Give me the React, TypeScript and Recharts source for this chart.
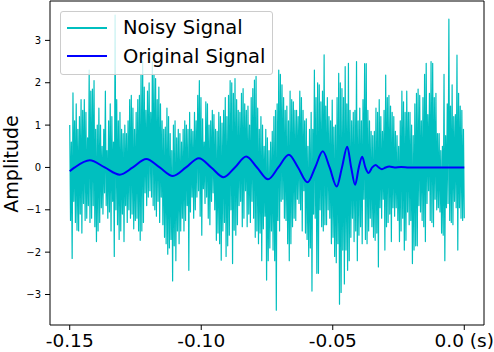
import React from 'react';
import { LineChart, Line, XAxis, YAxis, ReferenceArea, Label } from 'recharts';

// noisy samples, read segment by segment from left to right
const noiseSeg1 = [
  1.0, -1.25, 0.6, -2.15, 1.76, -0.8, 1.1, -1.3, 1.5, -1.48,
  0.9, -1.5, 1.2, -1.1, 1.6, -1.55, 1.35, -0.85, 1.6, -1.25,
  1.3, -1.2, 0.7, -0.9, 2.3, -1.3, 1.8, -1.2, 1.85, -0.9,
  2.05, -1.4, 0.9, -1.75, 1.0, -1.5, 1.4, -1.3, 1.0, -0.95,
  0.5, -1.1, 0.9, -0.6, 1.8, -0.9, 0.4, -1.2, 1.1, -1.05,
  1.5, -1.5, 1.2, -0.8, 0.6, -2.1, 3.6, -1.0, 1.6, -1.35,
  1.1, -1.7, 1.3, -1.5, 0.9, -1.1, 0.8, -1.75,
];
const noiseSeg2 = [
  1.0, -0.9, 0.8, -1.3, 1.1, -1.0, 1.6, -1.2, 1.7, -1.1,
  1.4, -1.45, 0.9, -1.25, 1.3, -1.2, 1.6, -1.5, 1.7, -1.72,
  2.2, -1.5, 2.5, -1.3, 1.9, -0.6, 1.35, -0.9, 1.8, -0.7,
  2.0, -0.55, 1.3, -0.7, 2.5, -0.9, 2.2, -1.0, 2.1, -1.15,
  1.6, -0.8, 1.9, -1.3, 1.5, -0.7, 1.1, -1.35, 0.9, -1.65,
  0.95, -1.8, 1.4, -2.05, 1.2, -1.9, 0.8, -1.7, 0.4, -2.68,
  1.0, -1.85, 1.1, -2.2, 0.7, -1.5, 0.9, -1.8, 0.8, -1.5,
  0.6, -1.2,
];
const noiseSeg3 = [
  0.9, -1.5, 1.1, -1.25, 1.0, -0.9, 0.9, -2.43, 1.3, -1.05,
  0.9, -0.7, 0.85, -1.2, 1.3, -1.0, 1.1, -0.7, 1.7, -0.55,
  2.05, -1.15, 1.65, -1.6, 1.15, -0.5, 0.6, -0.85, 1.55, -0.7,
  1.5, -1.2, 1.0, -1.35, 1.1, -0.8, 1.35, -0.6, 1.25, -1.0,
  0.9, -1.72, 0.85, -1.55, 1.3, -1.8, 1.2, -2.19, 1.05, -1.5,
  1.35, -1.3, 1.65, -2.1, 1.2, -1.85, 1.7, -1.6, 2.05, -1.0,
  2.0, -2.27, 1.75, -1.48, 2.1, -1.6, 1.6, -1.35, 1.35, -0.9,
];
const noiseSeg4 = [
  1.3, -0.8, 1.75, -1.4, 1.86, -1.2, 1.5, -0.55, 1.35, -1.4,
  1.45, -1.1, 1.0, -1.3, 1.65, -0.8, 1.86, -1.2, 2.06, -1.65,
  2.15, -1.5, 1.4, -1.8, 0.9, -1.55, 1.2, -2.2, 1.0, -1.45,
  0.5, -1.15, 0.9, -2.66, 0.7, -2.2, 0.4, -1.9, 0.6, -1.5,
  0.85, -1.95, 1.2, -2.2, 1.35, -3.37, 1.5, -1.25, 2.3, -1.5,
  2.2, -0.8, 1.95, -0.75, 1.65, -1.2, 1.35, -1.25, 1.45, -1.8,
  1.1, -2.2, 1.8, -1.8, 1.6, -1.4, 1.55, -1.2, 1.35, -1.25,
];
const noiseSeg5 = [
  1.35, -0.75, 1.2, -0.85, 1.8, -1.0, 1.65, -1.5, 1.35, -0.55,
  1.1, -1.55, 1.15, -1.7, 0.5, -2.1, 0.9, -1.9, 1.3, -2.92,
  0.9, -1.1, 2.3, -1.2, 1.65, -2.5, 2.0, -2.5, 1.95, -1.0,
  1.55, -1.4, 1.8, -1.5, 2.66, -1.35, 1.45, -1.35, 1.65, -1.0,
  1.2, -1.2, 1.1, -1.8, 1.59, -1.65, 0.95, -2.1, 1.0, -2.25,
  1.65, -1.8, 2.22, -3.23, 2.0, -2.95, 1.86, -1.95, 1.65, -2.75,
  2.38, -1.95, 1.5, -2.43, 2.46, -2.2, 1.35, -1.65, 1.1, -1.2,
];
const noiseSeg6 = [
  1.3, -1.75, 1.35, -1.5, 2.5, -2.2, 1.1, -1.6, 1.4, -1.4,
  1.1, -1.8, 1.6, -0.75, 2.45, -1.7, 2.45, -1.8, 1.35, -1.5,
  1.1, -1.2, 0.85, -1.4, 0.75, -1.65, 0.85, -1.72, 1.4, -1.55,
  1.3, -2.35, 1.6, -0.95, 1.2, -1.2, 0.85, -0.75, 1.35, -1.95,
  2.18, -1.4, 1.65, -1.3, 1.7, -1.1, 1.45, -1.75, 1.3, -0.95,
  1.2, -1.15, 0.85, -0.95, 0.75, -1.25, 0.5, -1.75, 1.1, -1.5,
  1.8, -1.2, 1.55, -1.95, 1.3, -1.72, 1.8, -1.05, 1.3, -1.35,
];
const noiseSeg7 = [
  1.3, -1.25, 1.0, -2.27, 0.75, -1.95, 1.5, -1.85, 1.75, -1.85,
  1.85, -0.9, 1.7, -1.05, 1.1, -1.25, 1.65, -1.4, 2.2, -1.75,
  2.46, -0.85, 1.25, -0.55, 1.75, -1.25, 2.5, -1.3, 2.46, -1.4,
  1.65, -0.75, 1.75, -1.0, 0.8, -0.95, 0.8, -1.05, 0.4, -1.55,
  0.5, -1.6, 2.2, -2.2, 0.75, -0.95, 1.5, -0.85, 3.5, -1.25,
  1.45, -1.3, 1.95, -1.35, 1.2, -0.8, 1.25, -0.95, 2.65, -1.95,
  1.75, -0.95, 1.45, -1.2, 1.35, -1.25, 0.9, -1.2,
];

// original signal: extrema and zero crossings
const origT = [
  -0.15, -0.1481, -0.1424, -0.1367, -0.131, -0.126, -0.1209, -0.1158, -0.1108,
  -0.1058, -0.1009, -0.0962, -0.0915, -0.0872, -0.0829, -0.0788, -0.0746,
  -0.0707, -0.0667, -0.0632, -0.0596, -0.0567, -0.0538, -0.0512, -0.0485,
  -0.0465, -0.0445, -0.043, -0.0415, -0.0401, -0.0388, -0.0376, -0.0364,
  -0.035, -0.0337, -0.0325, -0.0313, -0.0299, -0.0285, -0.0265, -0.024,
  -0.021, 0.0,
];
const origV = [
  -0.09, 0, 0.17, 0, -0.17, 0, 0.2, 0, -0.2,
  0, 0.22, 0, -0.23, 0, 0.26, 0, -0.28,
  0, 0.3, 0, -0.35, 0, 0.38, 0, -0.45,
  0, 0.49, 0, -0.41, 0, 0.25, 0, -0.13,
  0, 0.06, 0, -0.04, 0, 0.02, 0, 0.01,
  0, 0,
];

const xTicks = [-0.15, -0.1, -0.05, 0];
const xTickLabels = ['-0.15', '-0.10', '-0.05', '0.0 (s)'];
const yTicks = [-3, -2, -1, 0, 1, 2, 3];
const yTickLabels = ['\u22123', '\u22122', '\u22121', '0', '1', '2', '3'];

const T_START = -0.15;
const T_END = 0;
const X_DOMAIN: [number, number] = [-0.1575, 0.0075];
const Y_DOMAIN: [number, number] = [-3.72, 3.93];

const FONT = 'DejaVu Sans, sans-serif';

const noisyVals = [
  ...noiseSeg1, ...noiseSeg2, ...noiseSeg3, ...noiseSeg4,
  ...noiseSeg5, ...noiseSeg6, ...noiseSeg7,
];
const step = (T_END - T_START) / (noisyVals.length - 1);
const noisyData = noisyVals.map((v, i) => ({ t: T_START + i * step, v }));
const origData = origT.map((t, i) => ({ t, v: origV[i] }));

const AmplitudeLabel = () => (
  <text
    x={18}
    y={164}
    transform="rotate(-90 18 164)"
    textAnchor="middle"
    fontSize={19}
    fontFamily={FONT}
    fill="#000"
  >
    Amplitude
  </text>
);

const LegendBox = () => (
  <div
    style={{
      position: 'absolute',
      left: 60,
      top: 11,
      width: 211,
      height: 62,
      border: '1px solid #cccccc',
      borderRadius: 3,
      background: 'rgba(255,255,255,0.8)',
      fontFamily: FONT,
      fontSize: 19.5,
      lineHeight: 1,
      color: '#000',
    }}
  >
    <div style={{ position: 'absolute', left: 6, top: 14.5, width: 40, height: 2, background: '#00bfbf' }} />
    <div style={{ position: 'absolute', left: 62, top: 6, whiteSpace: 'nowrap' }}>Noisy Signal</div>
    <div style={{ position: 'absolute', left: 6, top: 43, width: 40, height: 1.5, background: '#0000ff' }} />
    <div style={{ position: 'absolute', left: 62, top: 34.5, whiteSpace: 'nowrap' }}>Original Signal</div>
  </div>
);

const App: React.FC = () => {
  return (
    <div style={{ position: 'absolute', left: 0, top: 0, width: 494, height: 352, background: '#fff' }}>
      <LineChart width={494} height={352} margin={{ top: 1, right: 10, bottom: 1, left: 0 }}>
        <XAxis
          type="number"
          dataKey="t"
          domain={X_DOMAIN}
          allowDataOverflow
          ticks={xTicks}
          tickFormatter={(v: number) => xTickLabels[xTicks.findIndex((x) => Math.abs(x - v) < 1e-9)] ?? ''}
          axisLine={false}
          tickLine={{ stroke: '#000' }}
          tickSize={5}
          tickMargin={4}
          height={26}
          interval={0}
          tick={{ fill: '#000', fontSize: 18.5, fontFamily: FONT }}
        />
        <YAxis
          type="number"
          domain={Y_DOMAIN}
          allowDataOverflow
          ticks={yTicks}
          tickFormatter={(v: number) => yTickLabels[yTicks.indexOf(v)] ?? ''}
          axisLine={false}
          tickLine={{ stroke: '#000' }}
          tickSize={5}
          tickMargin={4}
          width={50}
          interval={0}
          tick={{ fill: '#000', fontSize: 10, fontFamily: FONT }}
        >
          <Label content={AmplitudeLabel} />
        </YAxis>
        <ReferenceArea
          x1={X_DOMAIN[0]}
          x2={X_DOMAIN[1]}
          y1={Y_DOMAIN[0]}
          y2={Y_DOMAIN[1]}
          fill="none"
          stroke="#000"
          strokeWidth={1}
          ifOverflow="visible"
        />
        <Line
          data={noisyData}
          dataKey="v"
          type="linear"
          stroke="#00bfbf"
          strokeWidth={1.2}
          strokeLinejoin="round"
          dot={false}
          activeDot={false}
          isAnimationActive={false}
        />
        <Line
          data={origData}
          dataKey="v"
          type="monotone"
          stroke="#0000ff"
          strokeWidth={2}
          dot={false}
          activeDot={false}
          isAnimationActive={false}
        />
      </LineChart>
      <LegendBox />
    </div>
  );
};

export default App;
